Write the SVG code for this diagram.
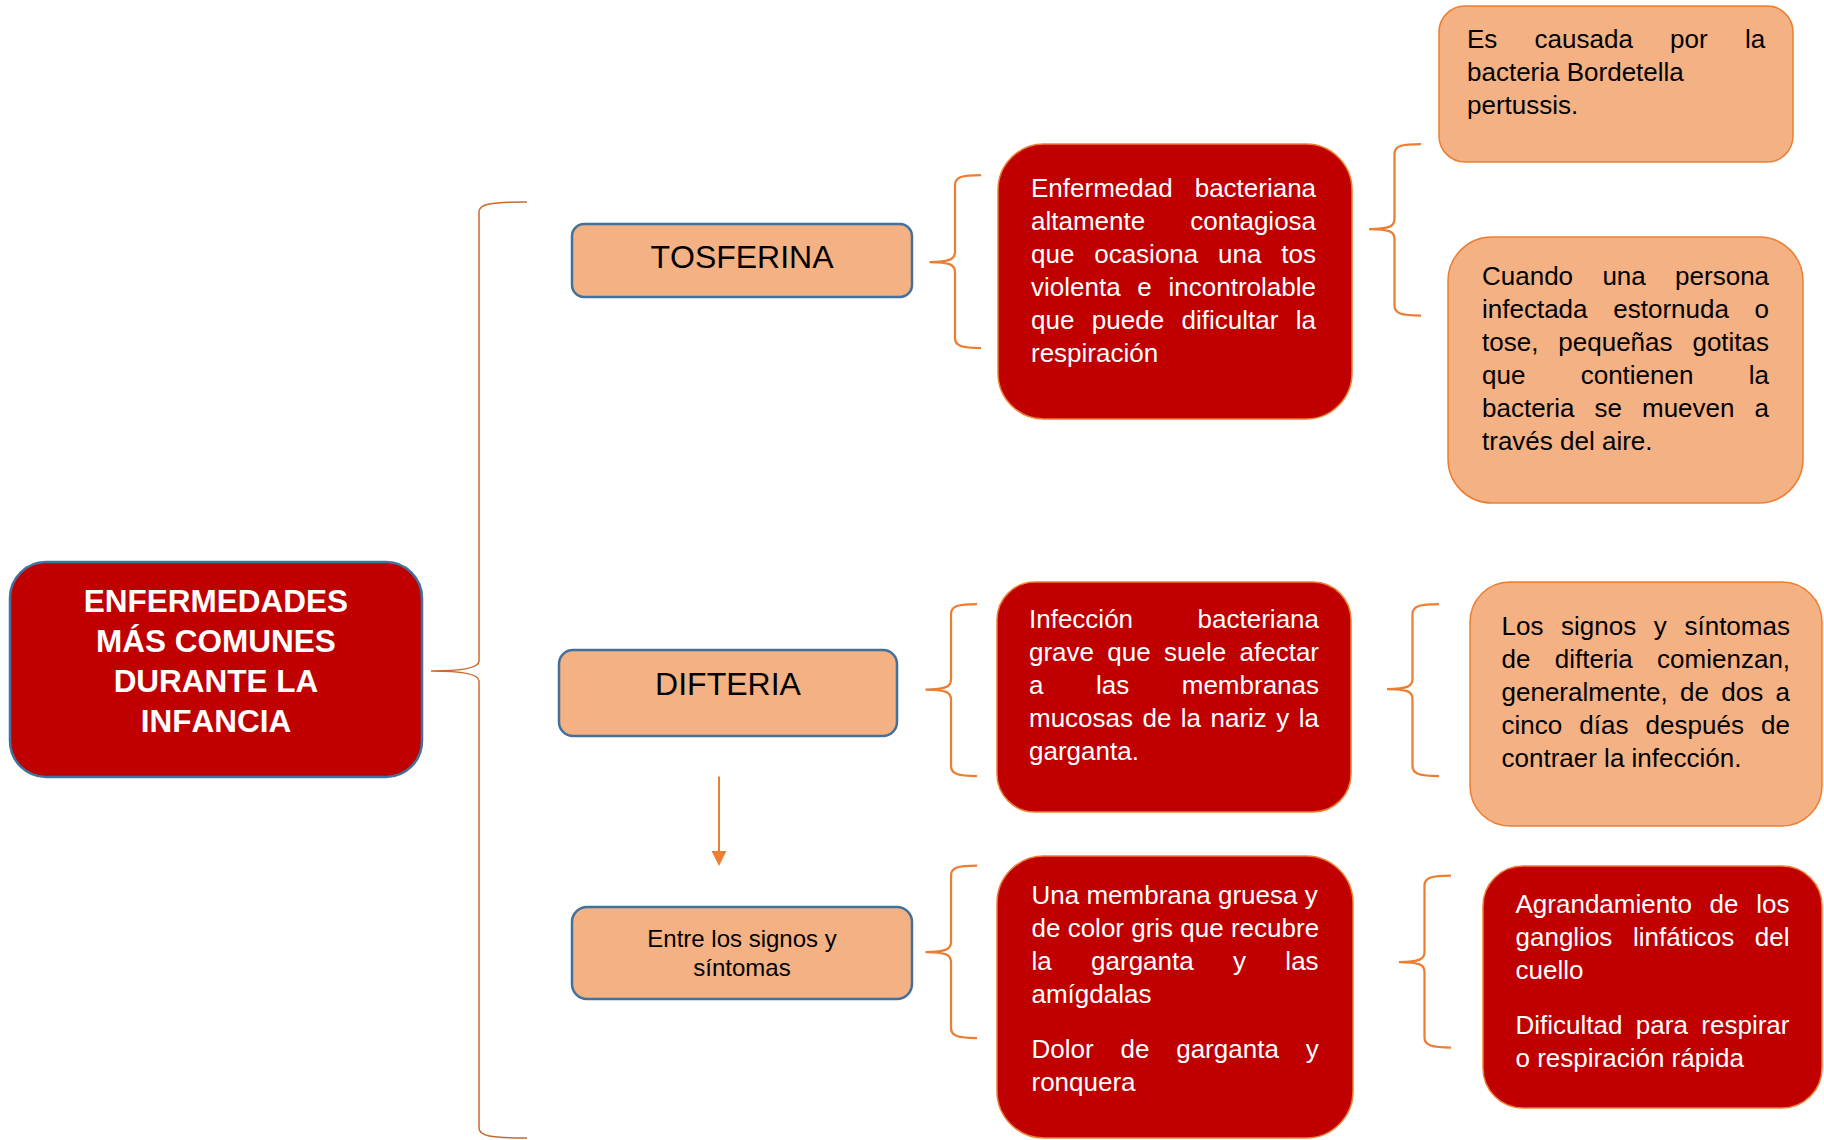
<svg xmlns="http://www.w3.org/2000/svg" width="1824" height="1140" viewBox="0 0 1824 1140">
<style>
text{font-family:"Liberation Sans",Arial,sans-serif;font-kerning:none}
.red{fill:#C00000;stroke:#ED7D31;stroke-width:1.5}
.org{fill:#F4B183;stroke:#ED7D31;stroke-width:1.5}
.lbl{fill:#F4B183;stroke:#41719C;stroke-width:2.5}
.main{fill:#C00000;stroke:#41719C;stroke-width:2.5}
.br{fill:none;stroke:#ED7D31;stroke-width:2.25}
.bigbr{fill:none;stroke:#CB6A2C;stroke-width:1.5}
.arrow{stroke:#ED7D31;stroke-width:2;fill:none}
.w{fill:#FFFFFF;font-size:26px}
.k{fill:#000000;font-size:26px}
.title{fill:#FFFFFF;font-size:31.5px;font-weight:bold;text-anchor:middle}
.lab{fill:#000000;font-size:32px;text-anchor:middle}
.labs{fill:#000000;font-size:24px;text-anchor:middle}
</style>
<defs>
<marker id="ah" viewBox="0 0 15 15" markerWidth="15" markerHeight="15" refX="0" refY="7.5" orient="auto" markerUnits="userSpaceOnUse">
<path d="M0,0 L15,7.5 L0,15 Z" fill="#ED7D31"/>
</marker>
</defs>

<g id="connectors">
<path class="bigbr" d="M527,202 C490,202 479,204 479,212 L479,661 C479,668 460,671 431,671 C460,671 479,674 479,681 L479,1128 C479,1136 490,1138 527,1138"/>
<path class="br" d="M981,175 C962,175 955,177 955,185 L955,252 C955,259 950,262 929.5,262 C950,262 955,265 955,272 L955,338 C955,346 962,348 981,348"/>
<path class="br" d="M1421,144 C1401,144 1394.5,146 1394.5,154 L1394.5,219 C1394.5,226 1390,229 1369,229 C1390,229 1394.5,232 1394.5,239 L1394.5,305.5 C1394.5,313.5 1401,315.5 1421,315.5"/>
<path class="br" d="M977,604 C958,604 951,606 951,614 L951,679.5 C951,686.5 946,689.5 925.5,689.5 C946,689.5 951,692.5 951,699.5 L951,766 C951,774 958,776 977,776"/>
<path class="br" d="M1439,604 C1420,604 1412.5,606 1412.5,614 L1412.5,679 C1412.5,686 1408,689 1387,689 C1408,689 1412.5,692 1412.5,699 L1412.5,766 C1412.5,774 1420,776 1439,776"/>
<path class="br" d="M977,865.5 C958,865.5 951,867.5 951,875.5 L951,942 C951,949 946,952 925.5,952 C946,952 951,955 951,962 L951,1028 C951,1036 958,1038 977,1038"/>
<path class="br" d="M1451,875.5 C1432,875.5 1424.5,877.5 1424.5,885.5 L1424.5,952 C1424.5,959 1420,962 1399,962 C1420,962 1424.5,965 1424.5,972 L1424.5,1037.5 C1424.5,1045.5 1432,1047.5 1451,1047.5"/>
<line class="arrow" x1="719" y1="776.5" x2="719" y2="851" marker-end="url(#ah)"/>
</g>

<g id="main">
<rect class="main" x="10" y="562" width="412" height="215" rx="36"/>
<text class="title" x="216" y="612">ENFERMEDADES</text>
<text class="title" x="216" y="652">MÁS COMUNES</text>
<text class="title" x="216" y="692">DURANTE LA</text>
<text class="title" x="216" y="732">INFANCIA</text>
</g>

<g id="tosferina">
<rect class="lbl" x="572" y="224" width="340" height="73" rx="12"/>
<text class="lab" x="742" y="268">TOSFERINA</text>
</g>

<g id="tosferina-def">
<rect class="red" x="998" y="144" width="354" height="275" rx="46"/>
<text class="w" x="1031" y="197" style="word-spacing:14.8px">Enfermedad bacteriana</text>
<text class="w" x="1031" y="230" style="word-spacing:37.9px">altamente contagiosa</text>
<text class="w" x="1031" y="263" style="word-spacing:12.6px">que ocasiona una tos</text>
<text class="w" x="1031" y="296" style="word-spacing:9.5px">violenta e incontrolable</text>
<text class="w" x="1031" y="329" style="word-spacing:10.2px">que puede dificultar la</text>
<text class="w" x="1031" y="362">respiración</text>
</g>

<g id="tosferina-causa">
<rect class="org" x="1439" y="6" width="354" height="156" rx="26"/>
<text class="k" x="1467" y="48" style="word-spacing:30px">Es causada por la</text>
<text class="k" x="1467" y="81">bacteria Bordetella</text>
<text class="k" x="1467" y="114">pertussis.</text>
</g>

<g id="tosferina-contagio">
<rect class="org" x="1448" y="237" width="355" height="266" rx="44"/>
<text class="k" x="1482" y="285" style="word-spacing:22.1px">Cuando una persona</text>
<text class="k" x="1482" y="318" style="word-spacing:18.5px">infectada estornuda o</text>
<text class="k" x="1482" y="351" style="word-spacing:12.7px">tose, pequeñas gotitas</text>
<text class="k" x="1482" y="384" style="word-spacing:48.1px">que contienen la</text>
<text class="k" x="1482" y="417" style="word-spacing:12.8px">bacteria se mueven a</text>
<text class="k" x="1482" y="450">través del aire.</text>
</g>

<g id="difteria">
<rect class="lbl" x="559" y="650" width="338" height="86" rx="14"/>
<text class="lab" x="728" y="695">DIFTERIA</text>
</g>

<g id="difteria-def">
<rect class="red" x="997" y="582" width="354" height="230" rx="38"/>
<text class="w" x="1029" y="628" style="word-spacing:57.3px">Infección bacteriana</text>
<text class="w" x="1029" y="661" style="word-spacing:6.1px">grave que suele afectar</text>
<text class="w" x="1029" y="694" style="word-spacing:45.3px">a las membranas</text>
<text class="w" x="1029" y="727" style="word-spacing:2.2px">mucosas de la nariz y la</text>
<text class="w" x="1029" y="760">garganta.</text>
</g>

<g id="difteria-inicio">
<rect class="org" x="1470" y="582" width="352" height="244" rx="40"/>
<text class="k" x="1501.5" y="634.5" style="word-spacing:10.4px">Los signos y síntomas</text>
<text class="k" x="1501.5" y="667.5" style="word-spacing:17.1px">de difteria comienzan,</text>
<text class="k" x="1501.5" y="700.5" style="word-spacing:5.1px">generalmente, de dos a</text>
<text class="k" x="1501.5" y="733.5" style="word-spacing:9.9px">cinco días después de</text>
<text class="k" x="1501.5" y="766.5">contraer la infección.</text>
</g>

<g id="signos">
<rect class="lbl" x="572" y="907" width="340" height="92" rx="15"/>
<text class="labs" x="742" y="947">Entre los signos y</text>
<text class="labs" x="742" y="976">síntomas</text>
</g>

<g id="signos-garganta">
<rect class="red" x="997" y="856" width="356" height="282" rx="47"/>
<text class="w" x="1031.5" y="904">Una membrana gruesa y</text>
<text class="w" x="1031.5" y="937">de color gris que recubre</text>
<text class="w" x="1031.5" y="970" style="word-spacing:32.1px">la garganta y las</text>
<text class="w" x="1031.5" y="1003">amígdalas</text>
<text class="w" x="1031.5" y="1058" style="word-spacing:19.6px">Dolor de garganta y</text>
<text class="w" x="1031.5" y="1091">ronquera</text>
</g>

<g id="signos-cuello">
<rect class="red" x="1483" y="866" width="339" height="242" rx="40"/>
<text class="w" x="1515.5" y="913" style="word-spacing:10.5px">Agrandamiento de los</text>
<text class="w" x="1515.5" y="946" style="word-spacing:13.4px">ganglios linfáticos del</text>
<text class="w" x="1515.5" y="979">cuello</text>
<text class="w" x="1515.5" y="1034" style="word-spacing:6.2px">Dificultad para respirar</text>
<text class="w" x="1515.5" y="1067">o respiración rápida</text>
</g>
</svg>
